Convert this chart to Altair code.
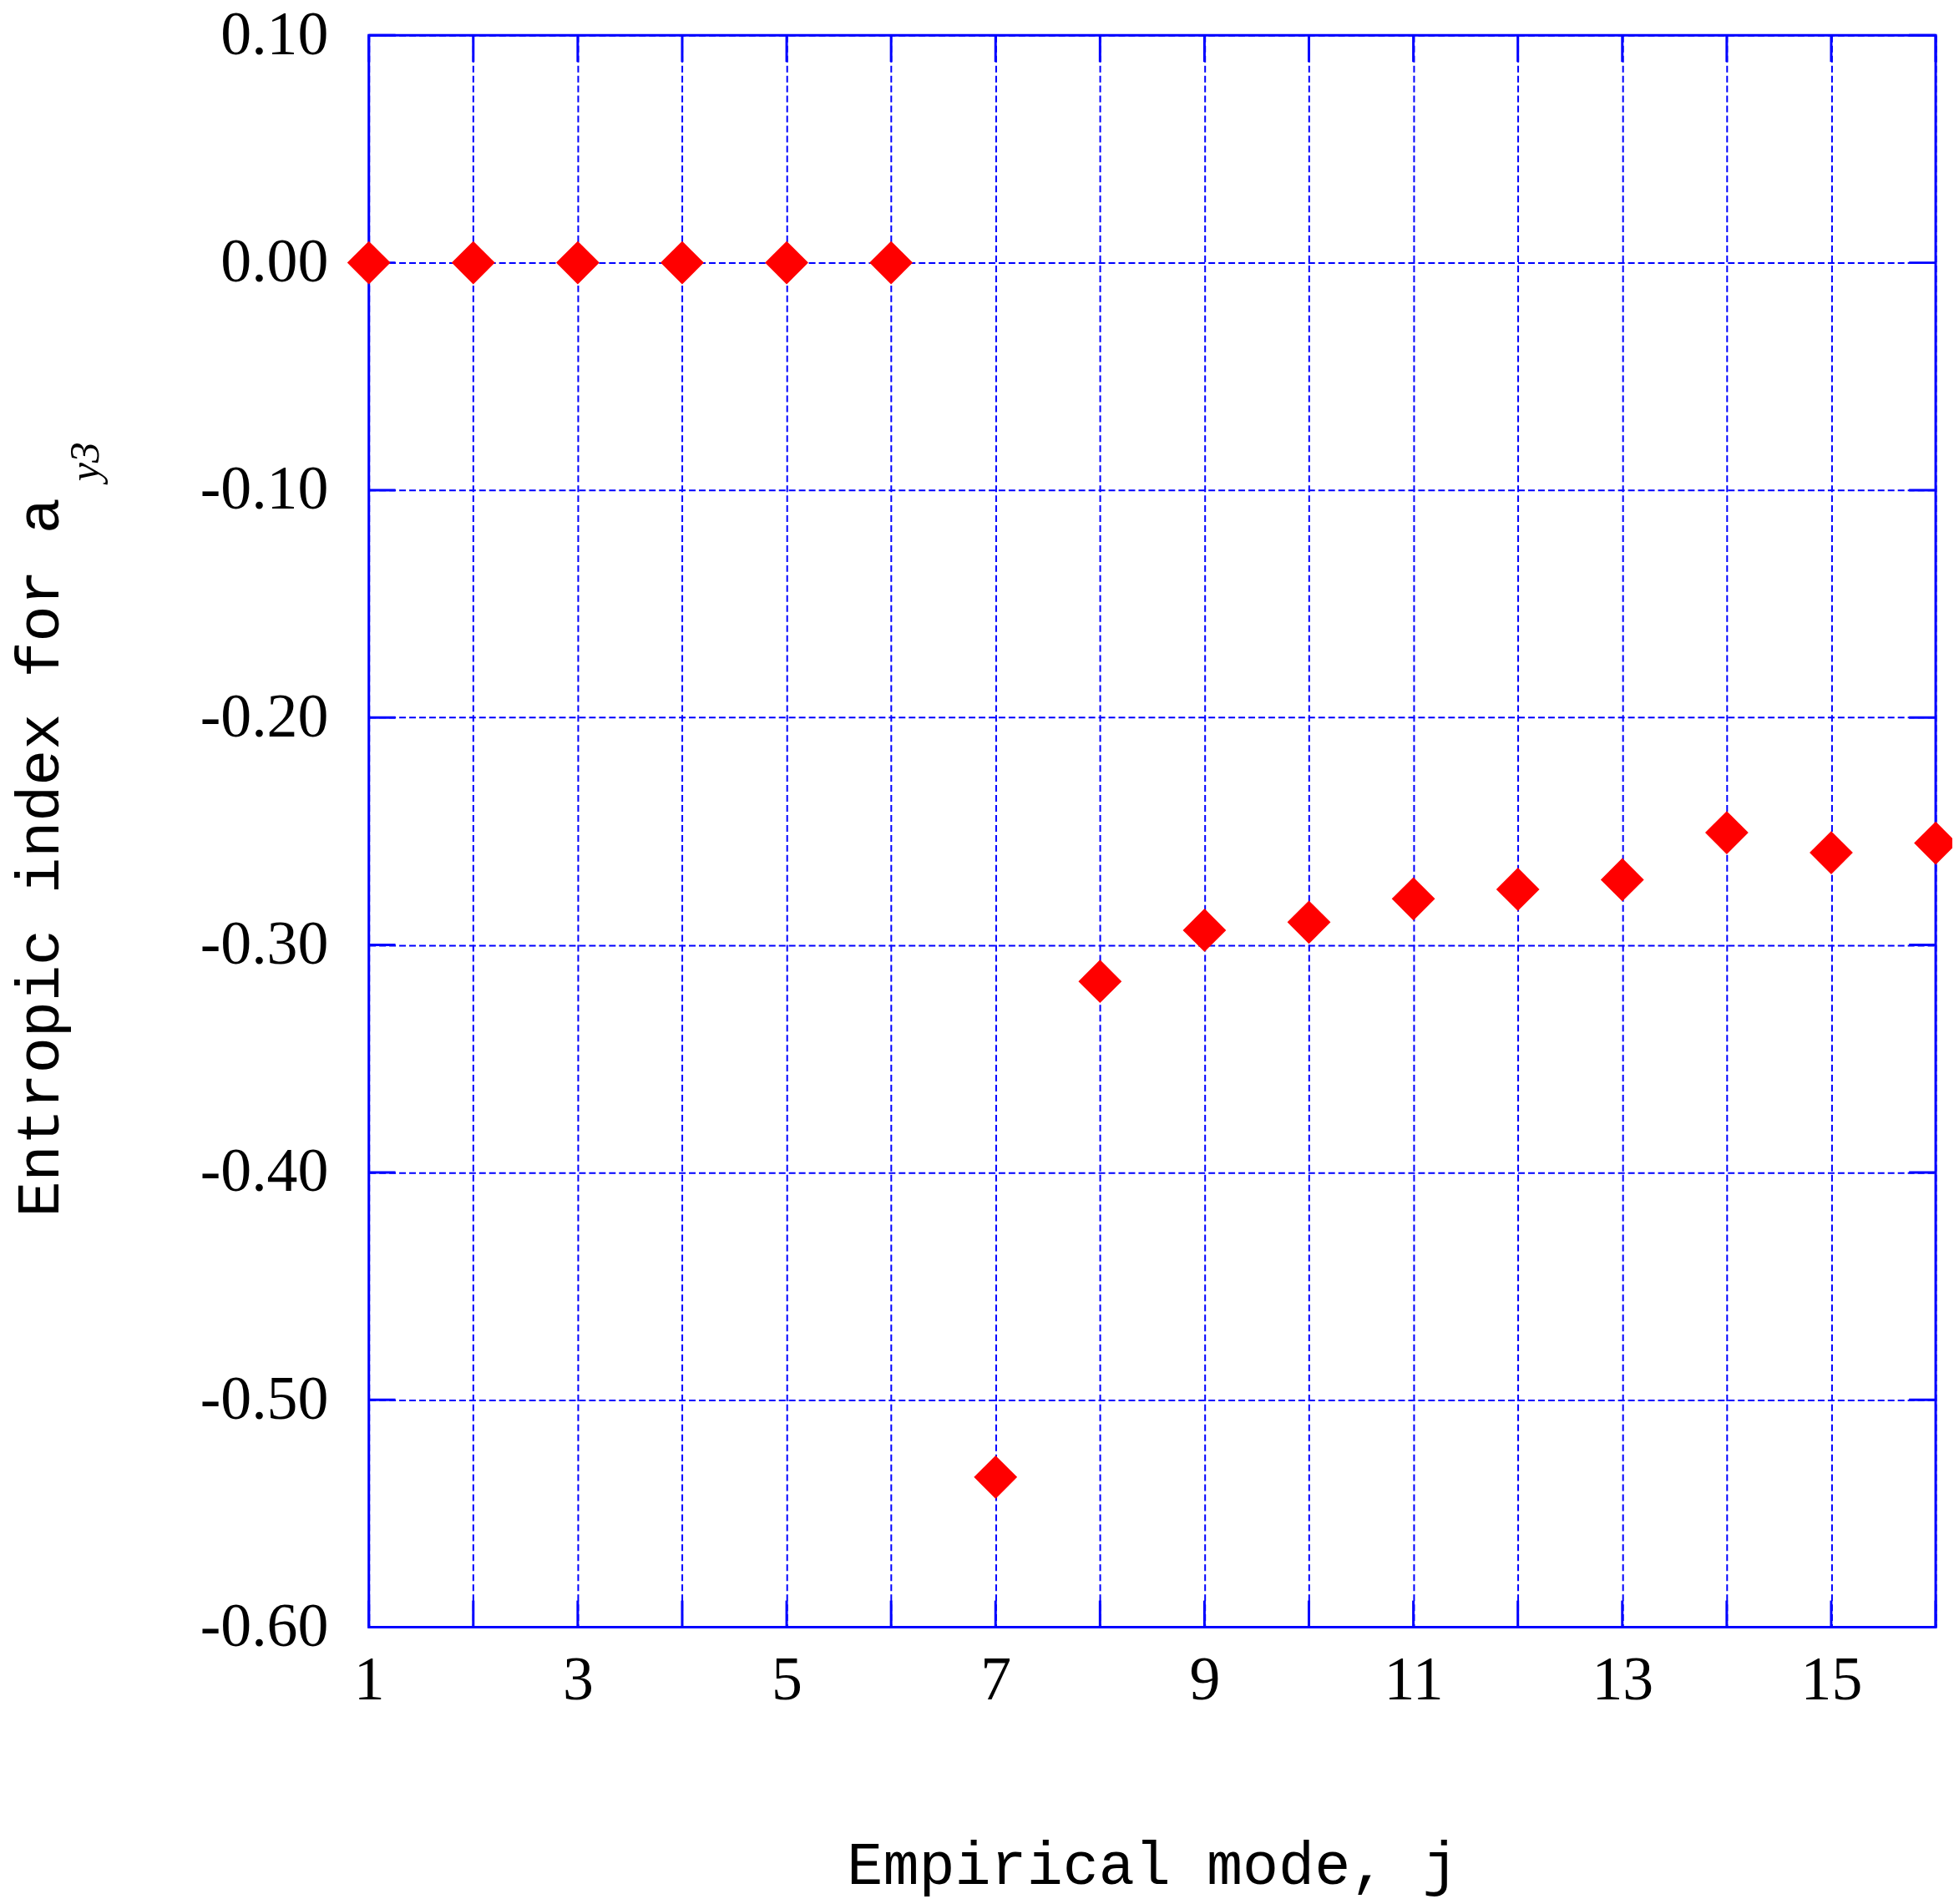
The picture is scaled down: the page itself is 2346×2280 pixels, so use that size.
import altair as alt
import pandas as pd

# ---- data ----
modes = list(range(1, 17))
entropic_index = [0.0, 0.0, 0.0, 0.0, 0.0, 0.0,
                  -0.534, -0.316, -0.2935, -0.290, -0.2797,
                  -0.2755, -0.2713, -0.2506, -0.2594, -0.2552]
y_ticks = [0.1, 0.0, -0.1, -0.2, -0.3, -0.4, -0.5, -0.6]
x_ticks = list(range(1, 17))

x_title = "Empirical mode, j"
y_title = "Entropic index for a"
y_sub = "y3"

df = pd.DataFrame({"mode": modes, "value": entropic_index})
yt_df = pd.DataFrame({"yt": y_ticks})
xt_df = pd.DataFrame({"xt": x_ticks})
sub_df = pd.DataFrame({"t": [y_sub]})

W, H = 1882, 1912
BLUE = "#0000FF"
SERIF = "Liberation Serif"
MONO = "Liberation Mono"
TICK = 32

xs = alt.Scale(domain=[1, 16], nice=False, zero=False)
ys = alt.Scale(domain=[-0.6, 0.1], nice=False, zero=False)

xaxis = alt.Axis(
    values=x_ticks,
    labelExpr="datum.value % 2 == 1 ? datum.label : ''",
    grid=True, gridColor=BLUE, gridDash=[8, 4], gridWidth=2, gridOpacity=1,
    ticks=False, domain=False,
    labelFont=SERIF, labelFontSize=74, labelColor="black", labelPadding=28,
    labelFlush=False, labelOverlap=False, labelBound=False,
    title=x_title, titleFont=MONO, titleFontSize=72, titleFontWeight="normal",
    titleColor="black", titleY=286, titleBaseline="middle",
)
yaxis = alt.Axis(
    values=y_ticks,
    labelExpr="datum.value < -0.0001 ? '-' + format(-datum.value, '.2f') : format(abs(datum.value), '.2f')",
    grid=True, gridColor=BLUE, gridDash=[8, 4], gridWidth=2, gridOpacity=1,
    ticks=False, domain=False,
    labelFont=SERIF, labelFontSize=74, labelColor="black", labelPadding=49,
    labelFlush=False, labelOverlap=False, labelBound=False,
    title=y_title, titleFont=MONO, titleFontSize=72, titleFontWeight="normal",
    titleColor="black", titleAngle=270, titleX=-395, titleY=987,
    titleAlign="center", titleBaseline="middle",
)

points = alt.Chart(df).mark_point(
    shape="diamond", filled=True, size=2700, color="#FF0000", opacity=1, strokeWidth=0
).encode(
    x=alt.X("mode:Q", scale=xs, axis=xaxis),
    y=alt.Y("value:Q", scale=ys, axis=yaxis),
)

tick_style = dict(color=BLUE, strokeWidth=3)
left_ticks = alt.Chart(yt_df).mark_rule(**tick_style).encode(
    y=alt.Y("yt:Q", scale=ys, axis=yaxis), x=alt.value(0), x2=alt.value(TICK))
right_ticks = alt.Chart(yt_df).mark_rule(**tick_style).encode(
    y=alt.Y("yt:Q", scale=ys, axis=yaxis), x=alt.value(W - TICK), x2=alt.value(W))
bottom_ticks = alt.Chart(xt_df).mark_rule(**tick_style).encode(
    x=alt.X("xt:Q", scale=xs, axis=xaxis), y=alt.value(H - TICK), y2=alt.value(H))
top_ticks = alt.Chart(xt_df).mark_rule(**tick_style).encode(
    x=alt.X("xt:Q", scale=xs, axis=xaxis), y=alt.value(0), y2=alt.value(TICK))

subscript = alt.Chart(sub_df).mark_text(
    font=SERIF, fontStyle="italic", fontSize=50, angle=270, color="black",
    align="center", baseline="middle"
).encode(text="t:N", x=alt.value(-340), y=alt.value(512))

chart = alt.layer(
    left_ticks, right_ticks, bottom_ticks, top_ticks, points, subscript
).properties(
    width=W, height=H,
    autosize="none",
    padding={"left": 435, "top": 31, "right": 20, "bottom": 321},
    background="white",
).configure_view(
    stroke=BLUE, strokeWidth=3
)

chart.save("out.html", embed_options={"renderer": "svg", "actions": False})
